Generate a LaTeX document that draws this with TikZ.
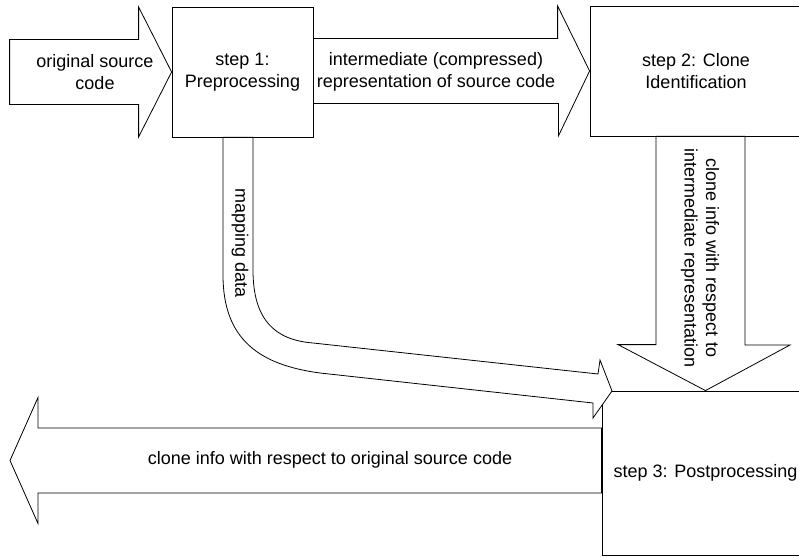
\documentclass[tikz,border=0pt]{standalone}
\usepackage{fontspec}
\setmainfont{Liberation Sans}
\usetikzlibrary{positioning}

\begin{document}
\begin{tikzpicture}[
  x=1pt, y=1pt,
  every node/.style={font=\fontsize{18}{21.5}\selectfont, align=center},
  stepbox/.style={
    rectangle, draw=black, fill=white, line width=0.8pt
  },
  blockarrow/.style={draw=black, fill=white, line width=0.8pt, line join=miter},
  lbl/.style={inner sep=0pt}
]
 \useasboundingbox (0,0) rectangle (799,557);
 \clip (0,0) rectangle (799,557);

 % The three steps
 \node[stepbox, minimum width=141, minimum height=130] (s1) at (242.5,485) {step 1:\\Preprocessing};
 \node[stepbox, minimum width=212, minimum height=130] (s2) at (696,486) {step 2: Clone\\Identification};
 \node[stepbox, minimum width=207, minimum height=164] (s3) at (705.5,84) {step 3: Postprocessing};

 % Input and the two arrows of the top row
 \draw[blockarrow] (s1.west) -- ++(-33,65) -- ++(0,-32.5) -- ++(-129,0)
   -- ++(0,-65) -- ++(129,0) -- ++(0,-32.5) -- cycle;
 \draw[blockarrow] (s2.west) -- ++(-32,65) -- ++(0,-32.5) -- (s1.east |- 0,518.5)
   -- (s1.east |- 0,453.5) -- ++(245,0) -- ++(0,-32.5) -- cycle;

 % Mapping data, bent down to step 3
 \draw[blockarrow] ([xshift=-19.5]s1.south) -- (223,282)
   .. controls (223,217) and (260,192) .. (320,184) -- (593,154)
   -- (593,139) -- (612,166) -- (600,197) -- (598,183) -- (313,214)
   .. controls (275,217) and (253,237) .. (253,287) -- ([xshift=10.5]s1.south) -- cycle;

 % Step 2 down to step 3
 \draw[blockarrow] (s3.north) -- ++(-87.5,46) -- ++(38,0) -- (656,0 |- s2.south)
   -- (745,0 |- s2.south) -- (745,212) -- (790,212) -- cycle;

 % Output of step 3
 \coordinate (out) at (10,96.5);
 \draw[blockarrow] (out) -- ++(28,63) -- ++(0,-30.5) -- (s3.west |- 0,129)
   -- (s3.west |- 0,64) -- (38,64) -- ++(0,-30.5) -- cycle;

 % Labels on the arrows
 \node[lbl] (srcl) at (95,485) {original source\\code};
 \node[lbl] (interl) at (436,485) {intermediate (compressed)\\representation of source code};
 \node[lbl, rotate=-90] (mapl) at (240,314) {mapping data};
 \node[lbl, rotate=-90] (clonel) at (700,299) {clone info with respect to\\intermediate representation};
 \node[lbl] (outl) at (330,97) {clone info with respect to original source code};
\end{tikzpicture}
\end{document}
